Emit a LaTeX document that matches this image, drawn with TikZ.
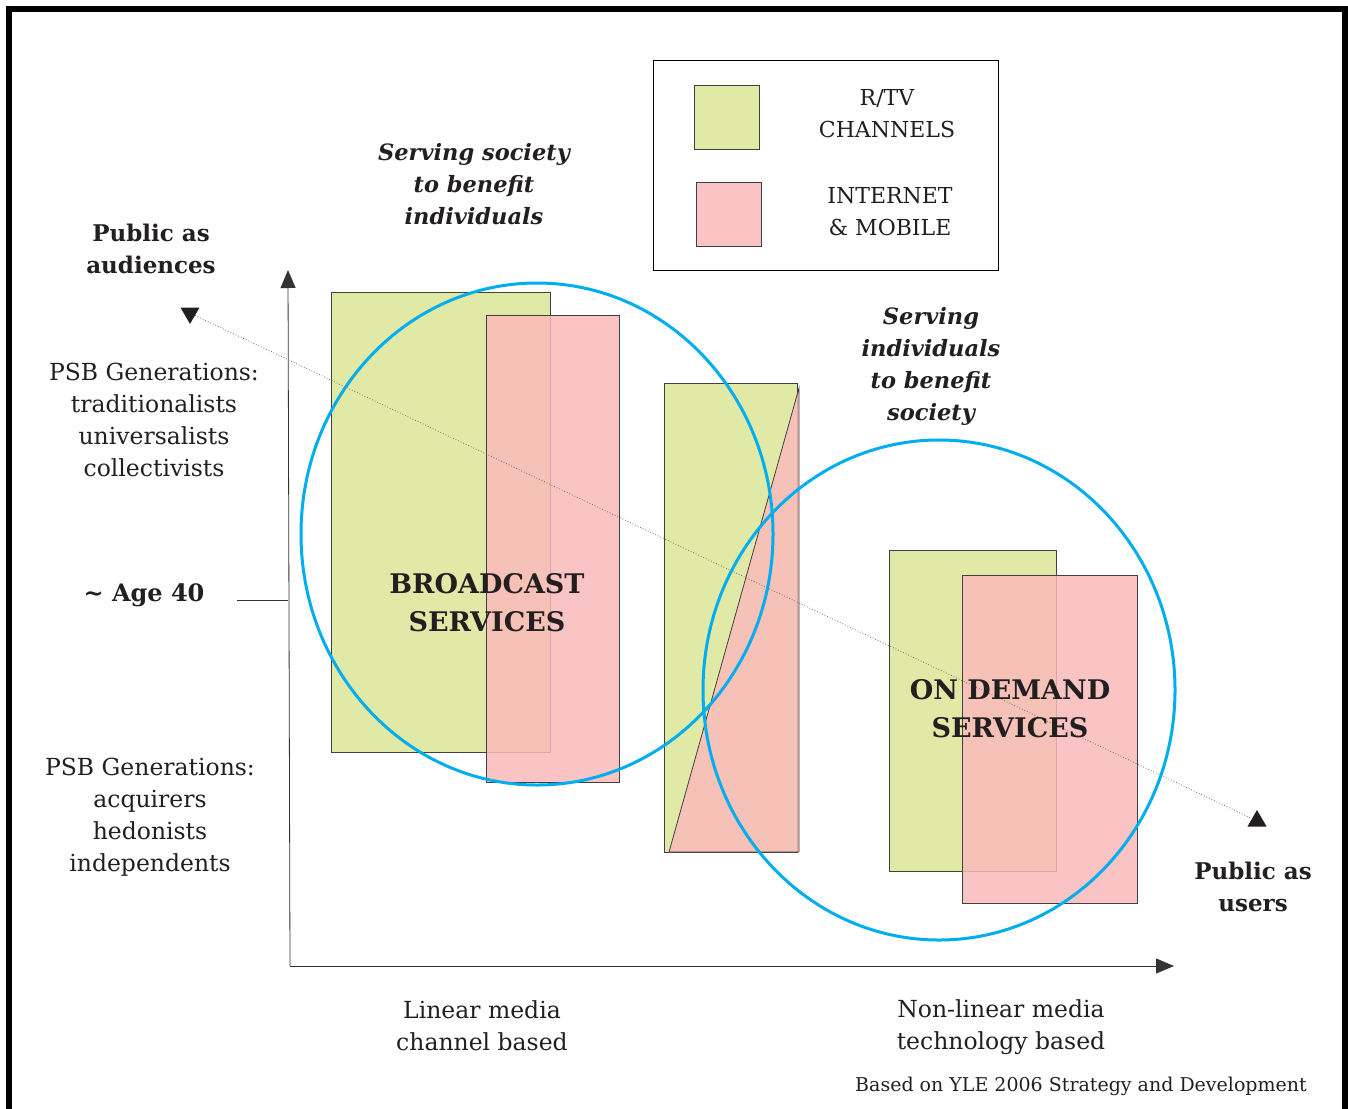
\documentclass[tikz,border=0pt]{standalone}
\usepackage{fontspec}
\setmainfont{DejaVu Serif}
\usetikzlibrary{arrows.meta,shapes.geometric}
\definecolor{tvgreen}{RGB}{224,234,166}
\definecolor{webpink}{RGB}{250,186,186}
\definecolor{ringblue}{RGB}{0,174,239}
\definecolor{ink}{RGB}{35,31,32}

\begin{document}
\begin{tikzpicture}[x=1pt,y=-1pt,text=ink,
  txt/.style={align=center,font=\fontsize{23.5}{32}\selectfont},
  bld/.style={align=center,font=\fontsize{23}{32}\selectfont\bfseries},
  bit/.style={align=center,font=\fontsize{22.5}{32}\selectfont\bfseries\itshape},
  svc/.style={align=center,font=\fontsize{27}{38}\selectfont\bfseries},
  tv/.style={fill=tvgreen,draw=black!75,line width=0.8pt},
  web/.style={fill=webpink,fill opacity=0.85,draw=black!75,draw opacity=1,line width=0.8pt},
  ring/.style={draw=ringblue,line width=3pt},
  axis/.style={line width=0.8pt,black!80,-{Triangle[length=18pt,width=15pt]}},
  pointer/.style={regular polygon,regular polygon sides=3,fill=ink,inner sep=0pt,minimum size=22pt}]
\useasboundingbox (0,0) rectangle (1348,1108);
\draw[line width=6pt] (9,1130) -- (9,9) -- (1345,9) -- (1345,1130);

% legend
\draw[line width=0.8pt] (653,60) rectangle (998,270);
\node[tv,minimum width=65,minimum height=64] (keytv) at (727,117) {};
\node[web,minimum width=65,minimum height=64] (keyweb) at (729,214) {};
\node[txt,font=\fontsize{22}{32}\selectfont] (keytvtxt) at (887,114) {R/TV\\CHANNELS};
\node[txt,font=\fontsize{22}{32}\selectfont] (keywebtxt) at (890,212) {INTERNET\\\& MOBILE};

% blocks
\draw[tv] (331,292) rectangle (550,752);
\draw[web] (486,315) rectangle (619,782);
\draw[tv] (664,383) rectangle (797,852);
\draw[web] (669,852) -- (799,388) -- (799,852) -- cycle;
\draw[tv] (889,550) rectangle (1056,871);
\draw[web] (962,575) rectangle (1137,903);

% axes
\coordinate (o) at (290,966);
\coordinate (ytop) at (288,270);
\coordinate (xend) at (1174,966);
\draw[axis] (o) -- (ytop);
\draw[axis] (o) -- (xend);

% audiences to users
\node[pointer,shape border rotate=180] (aud) at (190,313) {};
\node[pointer] (usr) at (1257,821) {};
\draw[dotted,black!55,line width=0.8pt] (aud) -- (usr);

\draw[ring] (537,534) ellipse [x radius=236,y radius=251];
\draw[ring] (939,690) ellipse [x radius=236,y radius=250];

\node[svc] (bcast) at (487,603) {BROADCAST\\SERVICES};
\node[svc] (ondem) at (1010,709) {ON DEMAND\\SERVICES};

\node[bit] (society) at (474,184) {Serving society\\to benefit\\individuals};
\node[bit] (indiv) at (931,366) {Serving\\individuals\\to benefit\\society};
\node[bld] (pubaud) at (151,249) {Public as\\audiences};
\node[bld] (pubusr) at (1253,887) {Public as\\users};

\node[txt] (gen1) at (154,420) {PSB Generations:\\traditionalists\\universalists\\collectivists};
\node[txt] (gen2) at (150,817) {PSB Generations:\\acquirers\\hedonists\\independents};
\node[bld,font=\fontsize{24}{32}\selectfont\bfseries] (age) at (144,595) {\textasciitilde\ Age 40};
\coordinate (agetick) at (288,600);
\draw[line width=0.8pt,black!80] ([xshift=29pt]age.east |- agetick) -- (agetick);

\node[txt] (linear) at (482,1026) {Linear media\\channel based};
\node[txt] (nonlin) at (1001,1027) {Non-linear media\\technology based};
\node[txt,font=\fontsize{19}{20}\selectfont] (src) at (1081,1086) {Based on YLE 2006 Strategy and Development};
\end{tikzpicture}
\end{document}
